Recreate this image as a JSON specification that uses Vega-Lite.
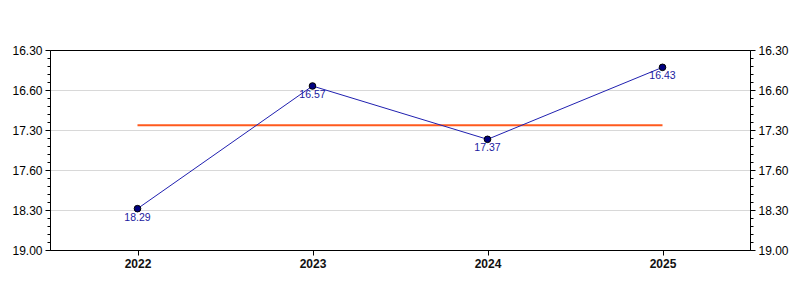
{
  "$schema": "https://vega.github.io/schema/vega-lite/v6.json",
  "width": 700,
  "height": 200,
  "autosize": {"type": "none"},
  "padding": {"left": 50, "top": 50, "right": 50, "bottom": 50},
  "background": "white",
  "config": {
    "font": "Liberation Sans",
    "view": {"stroke": "black", "strokeWidth": 1}
  },
  "data": {
    "values": [
      {"year": "2022", "seconds": 1109, "label": "18.29", "avg": 1046.5},
      {"year": "2023", "seconds": 1017, "label": "16.57", "avg": 1046.5},
      {"year": "2024", "seconds": 1057, "label": "17.37", "avg": 1046.5},
      {"year": "2025", "seconds": 1003, "label": "16.43", "avg": 1046.5}
    ]
  },
  "encoding": {
    "x": {
      "field": "year",
      "type": "ordinal",
      "scale": {"type": "point", "padding": 0.5},
      "axis": {
        "title": null,
        "labelAngle": 0,
        "labelFontSize": 12,
        "labelFontWeight": "bold",
        "labelColor": "#111111",
        "domainColor": "black",
        "tickColor": "black",
        "tickSize": 5,
        "labelPadding": 3,
        "grid": false
      }
    }
  },
  "layer": [
    {
      "mark": {"type": "line", "color": "#ff5a1e", "strokeWidth": 2},
      "encoding": {
        "y": {
          "field": "avg",
          "type": "quantitative",
          "scale": {"domain": [990, 1140], "reverse": true, "zero": false, "nice": false},
          "axis": {
            "orient": "left",
            "title": null,
            "values": [990, 996, 1002, 1008, 1014, 1020, 1026, 1032, 1038, 1044, 1050, 1056, 1062, 1068, 1074, 1080, 1086, 1092, 1098, 1104, 1110, 1116, 1122, 1128, 1134, 1140],
            "labelExpr": "datum.value == 990 ? '16.30' : datum.value == 1020 ? '16.60' : datum.value == 1050 ? '17.30' : datum.value == 1080 ? '17.60' : datum.value == 1110 ? '18.30' : datum.value == 1140 ? '19.00' : ''",
            "labelOverlap": false,
            "labelFlush": false,
            "labelBound": false,
            "labelFontSize": 12,
            "labelColor": "black",
            "labelPadding": 3,
            "domainColor": "black",
            "tickColor": "black",
            "tickSize": {"condition": {"test": "datum.value % 30 === 0", "value": 5}, "value": 3},
            "grid": true,
            "gridColor": "#d8d8d8",
            "gridOpacity": {"condition": {"test": "datum.value % 30 === 0 && datum.value != 990 && datum.value != 1140", "value": 1}, "value": 0}
          }
        }
      }
    },
    {
      "mark": {"type": "line", "color": "#2020b0", "strokeWidth": 1},
      "encoding": {
        "y": {
          "field": "seconds",
          "type": "quantitative",
          "axis": {
            "orient": "right",
            "title": null,
            "values": [990, 996, 1002, 1008, 1014, 1020, 1026, 1032, 1038, 1044, 1050, 1056, 1062, 1068, 1074, 1080, 1086, 1092, 1098, 1104, 1110, 1116, 1122, 1128, 1134, 1140],
            "labelExpr": "datum.value == 990 ? '16.30' : datum.value == 1020 ? '16.60' : datum.value == 1050 ? '17.30' : datum.value == 1080 ? '17.60' : datum.value == 1110 ? '18.30' : datum.value == 1140 ? '19.00' : ''",
            "labelOverlap": false,
            "labelFlush": false,
            "labelBound": false,
            "labelFontSize": 12,
            "labelColor": "black",
            "labelPadding": 3,
            "domainColor": "black",
            "tickColor": "black",
            "tickSize": {"condition": {"test": "datum.value % 30 === 0", "value": 5}, "value": 3},
            "grid": false
          }
        }
      }
    },
    {
      "mark": {"type": "point", "filled": true, "size": 44, "color": "#000080", "stroke": "black", "strokeWidth": 1, "opacity": 1},
      "encoding": {
        "y": {"field": "seconds", "type": "quantitative", "axis": null}
      }
    },
    {
      "mark": {"type": "text", "baseline": "top", "dy": 4, "fontSize": 10.5, "color": "#1a1aa0"},
      "encoding": {
        "y": {"field": "seconds", "type": "quantitative", "axis": null},
        "text": {"field": "label"}
      }
    }
  ],
  "resolve": {"axis": {"y": "independent"}}
}
